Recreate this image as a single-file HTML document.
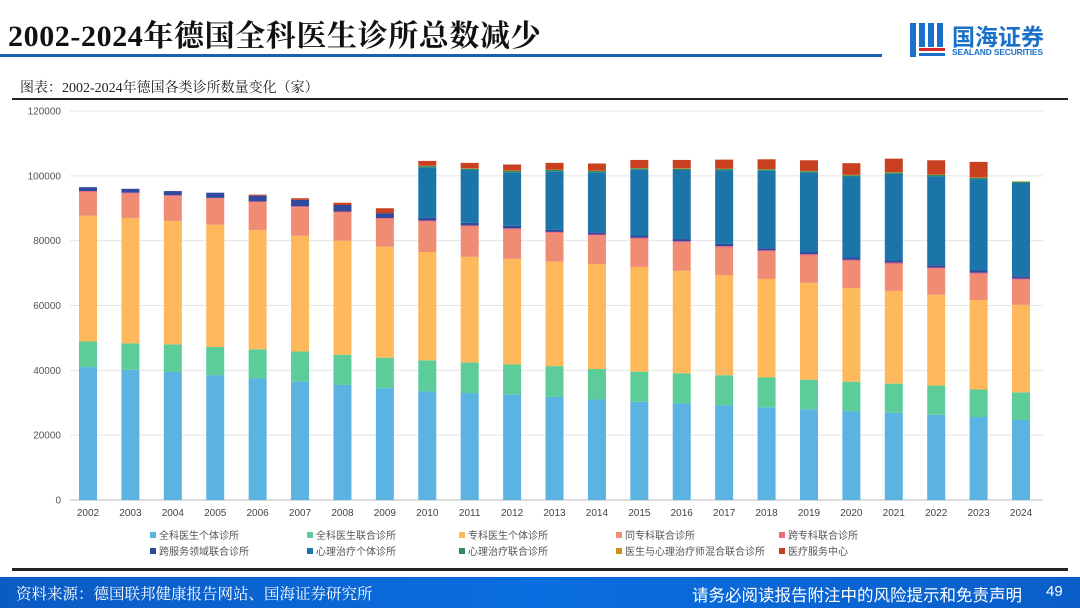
<!DOCTYPE html>
<html><head><meta charset="utf-8">
<style>
body{margin:0;width:1080px;height:608px;overflow:hidden;background:#fff;font-family:"Liberation Sans","Noto Sans CJK SC",sans-serif;position:relative}
.abs{position:absolute}
</style></head><body>
<div class="abs" style="left:8px;top:11px;font-family:'Liberation Serif','Noto Serif CJK SC',serif;font-weight:bold;font-size:30px;color:#111;letter-spacing:0.6px;white-space:nowrap">2002-2024年德国全科医生诊所总数减少</div>
<div class="abs" style="left:0;top:54px;width:882px;height:3px;background:#1a5fb4"></div>
<div class="abs" style="left:908px;top:18px;width:160px;height:44px">
  <svg width="40" height="40" viewBox="0 0 40 40" style="position:absolute;left:0;top:2px">
    <rect x="2" y="3" width="6" height="34" fill="#1a6fc9"/><rect x="11" y="3" width="6" height="24" fill="#1a6fc9"/><rect x="20" y="3" width="6" height="24" fill="#1a6fc9"/><rect x="29" y="3" width="6" height="24" fill="#1a6fc9"/>
    <rect x="11" y="28" width="26" height="3" fill="#d9262c"/><rect x="11" y="33" width="26" height="3" fill="#1a6fc9"/>
  </svg>
  <div class="abs" style="left:44px;top:0;font-size:23px;color:#1a6fc9;font-weight:bold">国海证券</div>
  <div class="abs" style="left:44px;top:29px;font-size:8.5px;color:#1a6fc9;font-weight:bold;letter-spacing:-0.2px">SEALAND SECURITIES</div>
</div>
<div class="abs" style="left:20px;top:77px;font-family:'Liberation Serif','Noto Serif CJK SC',serif;font-size:14px;color:#222">图表：2002-2024年德国各类诊所数量变化（家）</div>
<div class="abs" style="left:12px;top:98px;width:1056px;height:2px;background:#222"></div>
<svg id="chart" class="abs" style="left:0;top:100px" width="1080" height="470"></svg>
<div class="abs" style="left:12px;top:568px;width:1056px;height:3px;background:#222"></div>
<div class="abs" style="left:0;top:577px;width:1080px;height:31px;background:linear-gradient(90deg,#0b5bc4,#0a6ee0 50%,#0a5ec8)">
  <div class="abs" style="left:16px;top:5px;font-family:'Liberation Serif','Noto Serif CJK SC',serif;font-size:15.5px;color:#fff;white-space:nowrap">资料来源：德国联邦健康报告网站、国海证券研究所</div>
  <div class="abs" style="left:692px;top:5px;font-size:16.5px;color:#fff;white-space:nowrap">请务必阅读报告附注中的风险提示和免责声明</div>
  <div class="abs" style="left:1046px;top:6px;font-size:15px;color:#fff">49</div>
</div>
<script>
const years=['2002','2003','2004','2005','2006','2007','2008','2009','2010','2011','2012','2013','2014','2015','2016','2017','2018','2019','2020','2021','2022','2023','2024'];
const gpSingle=[41000,40200,39500,38500,37500,36500,35500,34500,33500,33000,32500,31800,31000,30300,29800,29200,28600,28000,27400,26900,26300,25600,24700];
const gpJoint=[7900,8100,8500,8700,9000,9300,9300,9400,9600,9400,9300,9500,9400,9300,9300,9300,9200,9100,9100,9000,9000,8500,8500];
const specSingle=[38800,38700,38100,37700,36800,35700,35200,34200,33400,32600,32600,32200,32400,32300,31600,30900,30400,29900,28900,28600,28000,27600,27000];
const sameSpecJoint=[7300,7500,7600,8000,8500,8800,8700,8600,9300,9300,9000,8800,8700,8600,8700,8500,8400,8400,8300,8300,8000,8000,7700];
const crossSpecJoint=[300,300,300,300,300,300,300,300,400,400,400,400,400,400,400,400,400,400,400,400,400,400,400];
const crossService=[1200,1200,1300,1600,1800,2000,2000,1500,900,800,800,700,700,700,700,700,700,700,700,700,700,700,700];
const psySingle=[0,0,0,0,0,0,0,0,15500,16300,16500,18000,18500,20300,21300,22700,23900,24500,25000,26700,27500,28200,28800];
const psyJoint=[0,0,0,0,0,0,0,0,400,400,400,400,400,400,400,400,400,400,400,400,400,400,400];
const mixedJoint=[0,0,0,0,0,0,0,0,100,100,100,100,100,100,100,100,100,100,100,100,100,100,100];
const mvz=[0,0,0,0,300,500,700,1500,1500,1700,1900,2100,2200,2500,2600,2800,3000,3300,3600,4200,4400,4800,0];
const seriesNames=['全科医生个体诊所','全科医生联合诊所','专科医生个体诊所','同专科联合诊所','跨专科联合诊所','跨服务领域联合诊所','心理治疗个体诊所','心理治疗联合诊所','医生与心理治疗师混合联合诊所','医疗服务中心'];
const yTicks=[0,20000,40000,60000,80000,100000,120000];
const series=[gpSingle,gpJoint,specSingle,sameSpecJoint,crossSpecJoint,crossService,psySingle,psyJoint,mixedJoint,mvz];
const colors=['#5ab3e0','#5ccd98','#fdb95c','#f08c73','#f06a78','#2f4a9c','#1b75a9','#2e8b5a','#c9911e','#c8401f'];
const keys=['gp-single','gp-joint','spec-single','same-spec-joint','cross-spec-joint','cross-service','psy-single','psy-joint','mixed-joint','mvz'];
const svg=document.getElementById('chart');const NS='http://www.w3.org/2000/svg';
const y0=400,yTop=11,maxV=120000;
const y=v=>y0-(v/maxV)*(y0-yTop);
const x=i=>88+i*42.41;
function mk(t,a){const e=document.createElementNS(NS,t);for(const k in a)e.setAttribute(k,a[k]);svg.appendChild(e);return e;}
yTicks.forEach(t=>{
  const g=mk('line',{x1:70,x2:1043,y1:y(t),y2:y(t),stroke:t===0?'#bbb':'#e4e4e4','stroke-width':1});
  
  
  const l=mk('text',{x:61,y:y(t)+3.5,'text-anchor':'end','font-size':10,fill:'#555'});l.textContent=t;
  
  
});
years.forEach((yr,i)=>{
  let acc=0;
  series.forEach((s,k)=>{
    const v=s[i];if(v<=0)return;
    const r=mk('rect',{x:x(i)-9,y:y(acc+v),width:18,height:y(acc)-y(acc+v),fill:colors[k]});
    
    
    acc+=v;
  });
  const l=mk('text',{x:x(i),y:416,'text-anchor':'middle','font-size':10,fill:'#444'});l.textContent=yr;
  
  
});
const lx=[150,307,459,616,779];
seriesNames.forEach((n,k)=>{
  const cx=lx[k%5],cy=k<5?436:452;
  const r=mk('rect',{x:cx,y:cy-4,width:6,height:6,fill:colors[k]});
  
  
  const t=mk('text',{x:cx+9,y:cy+3,'font-size':10,fill:'#555'});t.textContent=n;
  
  
});
</script>
</body></html>
